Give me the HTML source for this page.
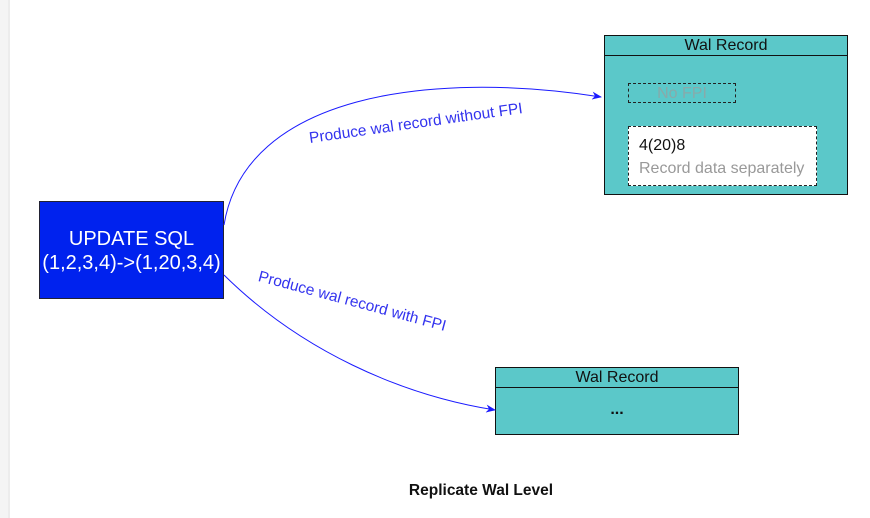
<!DOCTYPE html>
<html><head><style>
body{margin:0;width:870px;height:518px;background:#fff;position:relative;overflow:hidden;font-family:"Liberation Sans",Arial,sans-serif}
.strip{position:absolute;left:0;top:0;width:8px;height:518px;background:#f4f4f4;border-right:2px solid #ececec}
.box{position:absolute;box-sizing:border-box}
</style></head><body>
<div class="strip"></div>
<div class="box" style="left:39px;top:201px;width:185px;height:98px;background:#0022ee;border:1px solid #223;color:#fff;font-size:20px;text-align:center;line-height:24px;padding-top:25px;white-space:nowrap">UPDATE SQL<br>(1,2,3,4)-&gt;(1,20,3,4)</div>

<div class="box" style="left:604px;top:35px;width:244px;height:160px;background:#5bc8c9;border:1px solid #111"></div>
<div class="box" style="left:604px;top:35px;width:244px;height:21px;border:1px solid #111;font-size:16px;text-align:center;line-height:19px;color:#111">Wal Record</div>
<div class="box" style="left:628px;top:83px;width:108px;height:20px;border:1px dashed #222;color:#8aa;font-size:16px;text-align:center;line-height:19px">No FPI</div>
<div class="box" style="left:628px;top:126px;width:189px;height:60px;background:#fff;border:1px dashed #222;font-size:16px;padding:7px 0 0 10px;line-height:23px"><span style="color:#111">4(20)8</span><br><span style="color:#999">Record data separately</span></div>

<div class="box" style="left:495px;top:367px;width:244px;height:68px;background:#5bc8c9;border:1px solid #111"></div>
<div class="box" style="left:495px;top:367px;width:244px;height:21px;border:1px solid #111;font-size:16px;text-align:center;line-height:19px;color:#111">Wal Record</div>
<div class="box" style="left:495px;top:401px;width:244px;text-align:center;font-size:16px;font-weight:bold;color:#111">...</div>

<svg width="870" height="518" style="position:absolute;left:0;top:0">
<defs><marker id="a" markerWidth="10" markerHeight="8" refX="9" refY="4" orient="auto" markerUnits="userSpaceOnUse"><path d="M0,0 L10,4 L0,8 L3,4 Z" fill="#1a1aff"/></marker></defs>
<path d="M224,225 C245,95 430,70 601,97" fill="none" stroke="#1a1aff" stroke-width="1" marker-end="url(#a)"/>
<path d="M224,275 C300,350 400,395 495,410" fill="none" stroke="#1a1aff" stroke-width="1" marker-end="url(#a)"/>
<text x="416" y="128" font-size="15.5" fill="#3333ee" text-anchor="middle" transform="rotate(-8 416 124)">Produce wal record without FPI</text>
<text x="352" y="306" font-size="15.5" fill="#3333ee" text-anchor="middle" transform="rotate(15 352 302)">Produce wal record with FPI</text>
<text x="481" y="495" font-size="15.5" font-weight="bold" fill="#111" text-anchor="middle">Replicate Wal Level</text>
</svg>
</body></html>
